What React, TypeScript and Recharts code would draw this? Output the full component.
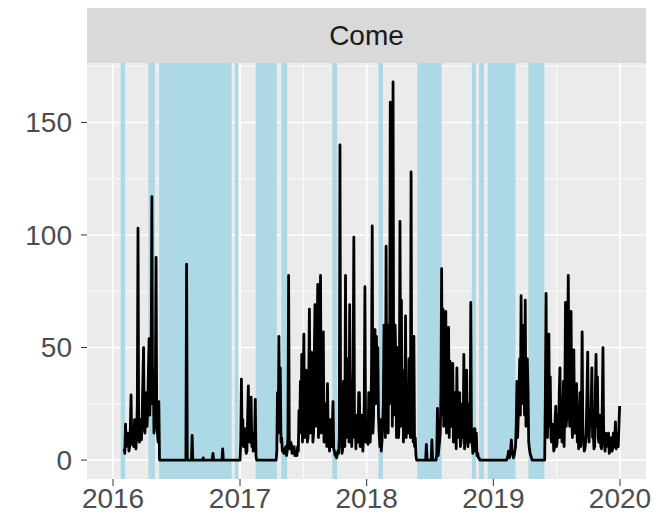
import { LineChart, Line, XAxis, YAxis, CartesianGrid, ReferenceArea } from "recharts";

// daily counts, one value every 2 days per active stretch
const come2016 = [
  5, 3, 16, 6, 8, 12, 10, 4, 6, 15, 29, 7, 14, 10, 6, 18, 9, 5, 12, 25,
  103, 10, 8, 15, 18, 9, 20, 35, 50, 14, 12, 22, 30, 15, 22, 40, 54, 20, 35, 45,
  117, 25, 40, 12, 20, 30, 90, 15, 12, 8, 26, 0,
];
const come2017a = [
  0, 8, 36, 12, 18, 6, 10, 14, 6, 3, 4, 20, 33, 10, 8, 15, 28, 6, 12, 4,
  5, 10, 27, 2, 0,
];
const come2017b = [
  0, 4, 30, 12, 55, 20, 41, 8, 10, 4, 5, 3, 3, 5, 6, 2, 4, 10, 82, 6,
  5, 8, 7, 3, 4, 5, 6, 2, 3, 4, 2, 6, 4, 22, 12, 35, 20, 47, 8, 30,
  56, 10, 15, 40, 30, 8, 10, 35, 67, 12, 20, 48, 42, 8, 12, 45, 69, 15, 25, 50,
  78, 10, 18, 60, 82, 12, 30, 45, 57, 8, 14, 25, 20, 6, 34, 12, 10, 4, 18, 8,
  6, 15, 26, 5, 4, 2, 3, 1, 2, 4, 3, 10, 140, 8, 10, 3, 5, 35, 20, 6,
  82, 10, 15, 45, 30, 8, 69, 15, 12, 6, 25, 40, 99, 10, 18, 5, 20, 12, 8, 30,
  30, 6, 10, 20, 15, 4, 12, 25, 77, 8, 15,
];
const come2018a = [
  15, 10, 7, 30, 12, 8, 15, 40, 104, 12, 20, 58, 58, 25, 55, 40, 50, 20, 12, 6,
  18, 4, 8, 15, 25, 60, 30, 10, 95, 20, 40, 12, 60, 25, 159, 30, 120, 15, 168, 20,
  30, 60, 45, 10, 20, 50, 10, 25, 106, 15, 71, 20, 40, 8, 30, 15, 64, 10, 33, 12,
  15, 45, 20, 10, 128, 15, 25, 8, 55, 6, 10, 2, 0,
];
const come2018b = [
  0, 3, 23, 2, 5, 8, 12, 30, 85, 20, 67, 15, 30, 45, 66, 12, 20, 50, 59, 10,
  44, 20, 15, 35, 43, 8, 12, 30, 20, 5, 41, 15, 10, 25, 30, 6, 8, 20, 25, 10,
  47, 5, 10, 30, 40, 12, 6, 25, 20, 8, 70, 10, 8, 3, 5, 14, 14, 4, 12, 2,
  3, 1, 1, 0, 0,
];
const come2019a = [
  0, 0, 1, 2, 4, 1, 2, 5, 9, 3, 3, 1, 2, 4, 6, 15, 35, 10, 20, 30,
  45, 20, 73, 25, 60, 50, 40, 20, 71, 15, 30, 45, 31, 8, 5, 3, 2, 1, 0,
];
const come2019b = [
  0, 0, 0, 0, 0, 30, 74, 20, 10, 35, 56, 15, 37, 10, 8, 12, 16, 4, 5, 18,
  24, 6, 8, 20, 10, 30, 41, 10, 28, 8, 12, 35, 6, 25, 70, 15, 20, 45, 82, 30,
  15, 40, 66, 20, 10, 35, 49, 12, 12, 25, 34, 8, 15, 5, 20, 30, 6, 20, 57, 10,
  10, 4, 5, 8, 16, 30, 48, 12, 8, 20, 15, 25, 41, 10, 12, 5, 6, 30, 47, 15,
  37, 10, 8, 20, 10, 6, 5, 25, 50, 10, 8, 4, 12, 6, 8, 10, 12, 3, 4, 8,
  10, 4, 5, 12, 6, 10, 17, 5, 8, 12, 6, 15, 24,
];
const segments = [come2016, come2017a, come2017b, come2018a, come2018b, come2019a, come2019b];
const segmentStarts = [
  "2016-02-02", "2017-01-01", "2017-04-15", "2018-01-01", "2018-07-20", "2019-02-06", "2019-05-21",
];

// lone spikes in quiet stretches
const spikeDates = ["2016-07-31", "2016-08-16", "2016-09-17", "2016-10-15", "2016-11-12", "2018-06-22", "2018-07-08"];
const spikeValues = [87, 11, 1, 3, 5, 7, 9];

// shaded periods
const bandStarts = [
  "2016-01-23", "2016-04-12", "2016-05-13", "2016-12-17", "2017-02-15",
  "2017-04-30", "2017-09-24", "2018-02-04", "2018-05-27", "2018-10-31",
  "2018-11-21", "2018-12-16", "2019-04-12",
];
const bandEnds = [
  "2016-02-05", "2016-05-01", "2016-12-08", "2016-12-27", "2017-04-17",
  "2017-05-17", "2017-10-08", "2018-02-17", "2018-08-05", "2018-11-12",
  "2018-12-05", "2019-03-06", "2019-05-28",
];

const years = [2016, 2017, 2018, 2019, 2020];
const yTicks = [0, 50, 100, 150];
const yMinor = [25, 75, 125, 175];

const DAY = 86400000;
const FONT = "'Liberation Sans', Arial, sans-serif";

const rows = [
  ...segments.flatMap((vals, k) => {
    const t0 = Date.parse(segmentStarts[k]);
    return vals.map((v, i) => ({ t: t0 + i * 2 * DAY, value: v }));
  }),
  ...spikeDates.flatMap((d, i) => {
    const t = Date.parse(d);
    return [
      { t: t - 2 * DAY, value: 0 },
      { t, value: spikeValues[i] },
      { t: t + 2 * DAY, value: 0 },
    ];
  }),
].sort((a, b) => a.t - b.t);

const yearTicks = years.map((y) => Date.UTC(y, 0, 1));
const minorX = yearTicks.slice(1).map((t, i) => (t + yearTicks[i]) / 2);
const xDomain = [yearTicks[0] - 75 * DAY, yearTicks[yearTicks.length - 1] + 75 * DAY];

export default function App() {
  return (
    <div style={{ position: "absolute", left: 0, top: 0, width: 666, height: 521, background: "#fff" }}>
      <div
        style={{
          position: "absolute",
          left: 87,
          top: 8,
          width: 559,
          height: 55,
          background: "#D9D9D9",
          display: "flex",
          alignItems: "center",
          justifyContent: "center",
          fontFamily: FONT,
          fontSize: 28,
          color: "#1A1A1A",
        }}
      >
        Come
      </div>
      <LineChart
        width={666}
        height={521}
        data={rows}
        margin={{ top: 63, right: 20, bottom: 0, left: 0 }}
      >
        <CartesianGrid
          fill="#EBEBEB"
          stroke="#FFFFFF"
          strokeWidth={0.8}
          horizontalValues={yMinor}
          verticalValues={minorX}
        />
        <CartesianGrid
          stroke="#FFFFFF"
          strokeWidth={1.6}
          horizontalValues={yTicks}
          verticalValues={yearTicks}
        />
        <XAxis
          dataKey="t"
          type="number"
          domain={xDomain}
          allowDataOverflow
          ticks={yearTicks}
          interval={0}
          tickFormatter={(t) => String(new Date(t).getUTCFullYear())}
          axisLine={false}
          tickLine={{ stroke: "#333333" }}
          tickSize={7}
          tickMargin={2}
          height={42}
          tick={{ fontSize: 28, fill: "#4D4D4D", fontFamily: FONT }}
        />
        <YAxis
          type="number"
          domain={[-8.4, 176.4]}
          allowDataOverflow
          ticks={yTicks}
          interval={0}
          axisLine={false}
          tickLine={{ stroke: "#333333" }}
          tickSize={6}
          tickMargin={9}
          width={87}
          tick={{ fontSize: 28, fill: "#4D4D4D", fontFamily: FONT }}
        />
        {bandStarts.map((s, i) => (
          <ReferenceArea
            key={s}
            x1={Date.parse(s)}
            x2={Date.parse(bandEnds[i])}
            y1={-8.4}
            y2={176.4}
            fill="#ADD8E6"
            fillOpacity={1}
            stroke="none"
            zIndex={-50}
          />
        ))}
        <Line
          dataKey="value"
          type="linear"
          stroke="#000000"
          strokeWidth={2.8}
          strokeLinejoin="round"
          dot={false}
          isAnimationActive={false}
        />
      </LineChart>
    </div>
  );
}
